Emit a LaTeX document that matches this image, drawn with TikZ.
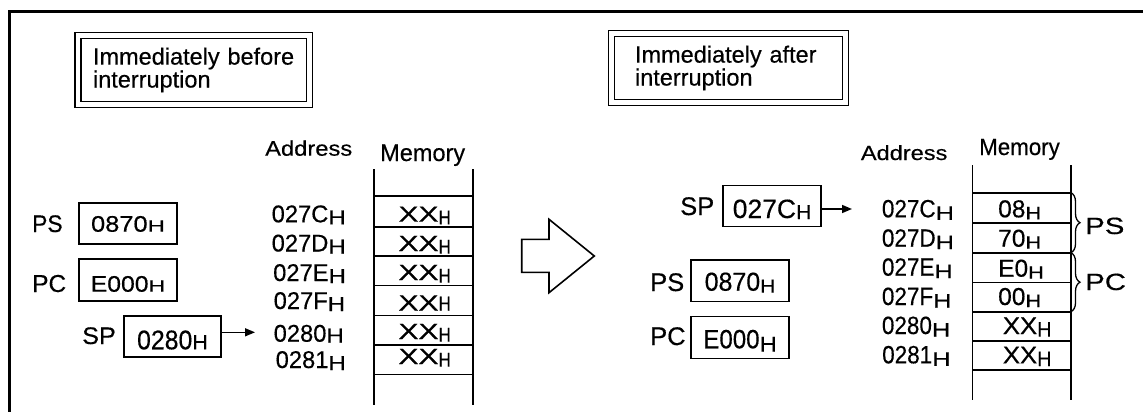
\documentclass[tikz,border=0pt]{standalone}
\usepackage{fontspec}
\setmainfont[FakeBold=0.4]{Liberation Sans}
\usepackage{graphicx}
\usetikzlibrary{arrows.meta,decorations.pathreplacing}

% size, horizontal stretch, text
\newcommand\sz[3]{{\fontsize{#1}{#1}\selectfont\scalebox{#2}[1]{#3}}}
% hexadecimal suffix: size, stretch, drop below baseline
\newcommand\Hs[3]{\raisebox{-#3pt}{\sz{#1}{#2}{H}}}

\tikzset{
  frame/.style={line width=2.6pt, line join=miter},
  titlebox/.style={draw, double, line width=1.3pt, double distance=4.5pt,
    align=left, inner ysep=0pt, outer sep=0pt, minimum height=69pt,
    font=\fontsize{23.5}{21.5}\selectfont},
  regbox/.style={draw, line width=1.5pt, inner sep=0pt, text depth=0pt},
  lbl/.style={inner sep=0pt, anchor=base west},
  memline/.style={line width=1.6pt},
  ptr/.style={line width=1.5pt, -{Triangle[length=10pt,width=8pt]}},
  bigarrow/.style={line width=1.6pt, line join=miter},
  brc/.style={line width=1.3pt, decorate, decoration={brace, amplitude=9pt}},
}

\begin{document}
\begin{tikzpicture}[x=1pt,y=-1pt]
\useasboundingbox (0,0) rectangle (1143,412);

% outer frame (top and left edges)
\draw[frame] (9.5,412) -- (9.5,11.7) -- (1143,11.7);

% ---------------- before the interrupt ----------------
\node[titlebox, anchor=north west, minimum width=231.5pt, inner xsep=15pt,
      text width=201.5pt] (titleL) at (78,35.5) {Immediately before\\interruption};

\node[lbl] (psLlbl) at (32,232) {\sz{24}{0.95}{PS}};
\node[lbl] (pcLlbl) at (32,292) {\sz{24.5}{1}{PC}};
\node[lbl] (spLlbl) at (82,344) {\sz{24}{1.05}{SP}};

\node[regbox, minimum width=98pt, minimum height=41pt, text height=16.4pt]
  (psL) at (128,223.5) {\sz{22.5}{1.13}{0870}\Hs{16.5}{1.45}{0}};
\node[regbox, minimum width=98pt, minimum height=42pt, text height=23.4pt]
  (pcL) at (128,280) {\sz{22.5}{1.1}{E000}\Hs{16.5}{1.4}{0}};
\node[regbox, minimum width=97pt, minimum height=41pt, text height=25.6pt]
  (spL) at (172.5,336.5) {\sz{27}{0.92}{0280}\Hs{20.5}{1.05}{0}};

\node[lbl] (addrL) at (265,155.7) {\sz{21}{1.13}{Address}};
\node[lbl] (memL) at (380,161) {\sz{24}{0.98}{Memory}};

\node[lbl] (aL1) at (271.5,222.3) {\sz{24.2}{0.98}{027C}\Hs{20}{1.2}{2}};
\node[lbl] (aL2) at (271.5,251.5) {\sz{24.2}{0.98}{027D}\Hs{20}{1.2}{2}};
\node[lbl] (aL3) at (273,281) {\sz{24.2}{0.98}{027E}\Hs{20}{1.2}{2}};
\node[lbl] (aL4) at (273.5,309) {\sz{24.2}{0.98}{027F}\Hs{20}{1.2}{2}};
\node[lbl] (aL5) at (273.5,341.7) {\sz{24.2}{0.98}{0280}\Hs{20}{1.2}{0.8}};
\node[lbl] (aL6) at (275.5,368) {\sz{24.2}{0.98}{0281}\Hs{20}{1.2}{2}};

% memory column
\draw[memline] (374,169) -- (374,405) (472.7,169) -- (472.7,405);
\foreach \y in {196.2,226.7,256,285.5,315.5,345,374.3}
  \draw[memline] (374,\y) -- (472.7,\y);

\node[lbl] (cL1) at (398.3,221.7) {\sz{21.9}{1.37}{XX}\Hs{20}{0.85}{2.7}};
\node[lbl] (cL2) at (398.3,251) {\sz{21.9}{1.37}{XX}\Hs{20}{0.85}{2.7}};
\node[lbl] (cL3) at (398.3,280) {\sz{21.9}{1.37}{XX}\Hs{20}{0.85}{2.7}};
\node[lbl] (cL4) at (398.3,310.5) {\sz{21.9}{1.37}{XX}\Hs{20}{0.85}{0}};
\node[lbl] (cL5) at (398.3,339) {\sz{21.9}{1.37}{XX}\Hs{20}{0.85}{2.7}};
\node[lbl] (cL6) at (398.3,364) {\sz{21.9}{1.37}{XX}\Hs{20}{0.85}{2.7}};

\coordinate (tipL) at (255,332.3);
\draw[ptr] (spL.east |- tipL) -- (tipL);

% transition arrow
\draw[bigarrow] (521.7,239.3) -- (549,239.3) -- (549,219.3) -- (594.3,256)
  -- (549,292.7) -- (549,272.3) -- (521.7,272.3) -- cycle;

% ---------------- after the interrupt ----------------
\node[titlebox, anchor=north west, minimum width=234pt, inner xsep=23.5pt,
      text width=187pt] (titleR) at (611.5,33.5) {Immediately after\\interruption};

\node[lbl] (spRlbl) at (680,215) {\sz{25.5}{1}{SP}};
\node[lbl] (psRlbl) at (650,291) {\sz{25.5}{1}{PS}};
\node[lbl] (pcRlbl) at (650,345) {\sz{25.5}{1}{PC}};

\node[regbox, minimum width=98pt, minimum height=41pt, text height=23.6pt]
  (spR) at (772,206.2) {\sz{26.5}{1}{027C}\Hs{20}{1.05}{1}};
\node[regbox, minimum width=98pt, minimum height=41.7pt, text height=19.8pt]
  (psR) at (740,280.8) {\sz{26}{0.96}{0870}\Hs{19}{1.1}{2}};
\node[regbox, minimum width=98pt, minimum height=41.6pt, text height=21.6pt]
  (pcR) at (740,337.5) {\sz{26.5}{0.91}{E000}\Hs{21.5}{1.1}{3.4}};

\node[lbl] (addrR) at (860.7,160) {\sz{20.5}{1.15}{Address}};
\node[lbl] (memR) at (979,155) {\sz{23.5}{0.95}{Memory}};

\node[lbl] (aR1) at (881.7,217.3) {\sz{25}{0.9}{027C}\Hs{19.5}{1.3}{2.5}};
\node[lbl] (aR2) at (881.7,246.7) {\sz{25}{0.9}{027D}\Hs{19.5}{1.3}{2.5}};
\node[lbl] (aR3) at (881.7,275.7) {\sz{25}{0.9}{027E}\Hs{19.5}{1.3}{2.5}};
\node[lbl] (aR4) at (881.7,305) {\sz{25}{0.9}{027F}\Hs{19.5}{1.3}{2.5}};
\node[lbl] (aR5) at (881.7,334) {\sz{25}{0.9}{0280}\Hs{19.5}{1.3}{2.5}};
\node[lbl] (aR6) at (882,363.3) {\sz{25}{0.9}{0281}\Hs{19.5}{1.3}{2.5}};

\draw[memline] (972.3,165) -- (972.3,400) (1070.7,165) -- (1070.7,400);
\foreach \y in {192.7,222.7,252.7,282.3,311.7,341,370}
  \draw[memline] (972.3,\y) -- (1070.7,\y);

\node[lbl] (cR1) at (998,217.3) {\sz{24.5}{1}{08}\Hs{18}{1.2}{2}};
\node[lbl] (cR2) at (998,246.7) {\sz{24.5}{1}{70}\Hs{18}{1.2}{2}};
\node[lbl] (cR3) at (998,276.7) {\sz{24.5}{1}{E0}\Hs{18}{1.2}{2}};
\node[lbl] (cR4) at (998,305) {\sz{24.5}{1}{00}\Hs{18}{1.2}{2}};
\node[lbl] (cR5) at (1002.7,334) {\sz{24}{1.07}{XX}\Hs{21}{0.95}{2.7}};
\node[lbl] (cR6) at (1002.7,363.3) {\sz{24}{1.07}{XX}\Hs{21}{0.95}{2.7}};

\coordinate (tipR) at (852,209);
\draw[ptr] (spR.east |- tipR) -- (tipR);

% saved registers on the stack
\draw[brc] (1071,192.7) -- (1071,252.7);
\draw[brc] (1071,252.7) -- (1071,311.7);
\node[lbl] (psSaved) at (1085,234) {\sz{23.5}{1.25}{PS}};
\node[lbl] (pcSaved) at (1085,290) {\sz{23.5}{1.25}{PC}};
\end{tikzpicture}
\end{document}
